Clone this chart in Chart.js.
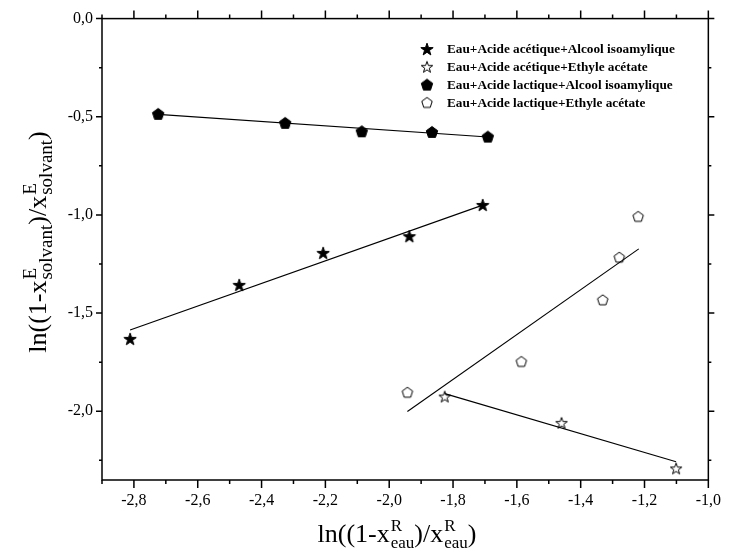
<!DOCTYPE html>
<html>
<head>
<meta charset="utf-8">
<script src="https://cdn.jsdelivr.net/npm/chart.js@4/dist/chart.umd.min.js"></script>
<style>
  html, body { margin: 0; padding: 0; background: #fff; }
  #wrap { width: 732px; height: 556px; }
</style>
</head>
<body>
<div id="wrap"><canvas id="c" width="732" height="556"></canvas></div>
<script>
// Series: ln((1-x^R_eau)/x^R_eau) vs ln((1-x^E_solvant)/x^E_solvant)
const seriesNames = [
  'Eau+Acide acétique+Alcool isoamylique',
  'Eau+Acide acétique+Ethyle acétate',
  'Eau+Acide lactique+Alcool isoamylique',
  'Eau+Acide lactique+Ethyle acétate'
];

// Acetic acid / isoamyl alcohol (filled stars)
const aceticIsoX = [-2.812, -2.470, -2.207, -1.937, -1.707];
const aceticIsoY = [-1.631, -1.356, -1.193, -1.108, -0.949];
// Acetic acid / ethyl acetate (open stars)
const aceticEthX = [-1.826, -1.460, -1.101];
const aceticEthY = [-1.925, -2.059, -2.291];
// Lactic acid / isoamyl alcohol (filled pentagons)
const lacticIsoX = [-2.724, -2.326, -2.086, -1.866, -1.691];
const lacticIsoY = [-0.485, -0.531, -0.574, -0.577, -0.601];
// Lactic acid / ethyl acetate (open pentagons)
const lacticEthX = [-1.943, -1.586, -1.331, -1.279, -1.220];
const lacticEthY = [-1.903, -1.746, -1.432, -1.215, -1.007];

// Straight-line fits, drawn between their two end points
const fitAceticIsoX = [-2.812, -1.707];
const fitAceticIsoY = [-1.586, -0.950];
const fitAceticEthX = [-1.826, -1.101];
const fitAceticEthY = [-1.910, -2.257];
const fitLacticIsoX = [-2.724, -1.691];
const fitLacticIsoY = [-0.488, -0.603];
const fitLacticEthX = [-1.943, -1.218];
const fitLacticEthY = [-2.001, -1.173];

// Axis ticks
const xMajorTicks = [-2.8, -2.6, -2.4, -2.2, -2.0, -1.8, -1.6, -1.4, -1.2, -1.0];
const xMinorTicks = [-2.9, -2.7, -2.5, -2.3, -2.1, -1.9, -1.7, -1.5, -1.3, -1.1];
const yMajorTicks = [0.0, -0.5, -1.0, -1.5, -2.0];
const yMinorTicks = [-0.25, -0.75, -1.25, -1.75, -2.25];

// Axis titles as runs: 'm' = normal text, 'script' = [superscript, subscript]
const xTitleRuns = [['ln((1-x', 'm'], [['R', 'eau'], 'script'], [')/x', 'm'], [['R', 'eau'], 'script'], [')', 'm']];
const yTitleRuns = [['ln((1-x', 'm'], [['E', 'solvant'], 'script'], [')/x', 'm'], [['E', 'solvant'], 'script'], [')', 'm']];

const SERIF = "'Liberation Serif', 'Times New Roman', serif";

function pts(xs, ys) { return xs.map((x, i) => ({ x: x, y: ys[i] })); }

// Marker images
function starPath(ctx, cx, cy, R) {
  const r = R * 0.4;
  ctx.beginPath();
  for (let i = 0; i < 10; i++) {
    const a = -Math.PI / 2 + i * Math.PI / 5;
    const rr = i % 2 === 0 ? R : r;
    const px = cx + rr * Math.cos(a), py = cy + rr * Math.sin(a);
    if (i === 0) ctx.moveTo(px, py); else ctx.lineTo(px, py);
  }
  ctx.closePath();
}
function pentPath(ctx, cx, cy, R) {
  ctx.beginPath();
  for (let i = 0; i < 5; i++) {
    const a = -Math.PI / 2 + i * 2 * Math.PI / 5;
    const px = cx + R * Math.cos(a), py = cy + R * Math.sin(a);
    if (i === 0) ctx.moveTo(px, py); else ctx.lineTo(px, py);
  }
  ctx.closePath();
}
function marker(shape, filled, R) {
  const s = 18;
  const c = document.createElement('canvas');
  c.width = s; c.height = s;
  const ctx = c.getContext('2d');
  (shape === 'star' ? starPath : pentPath)(ctx, s / 2, s / 2 + R * 0.1, R);
  ctx.fillStyle = filled ? '#000' : '#fff';
  ctx.fill();
  ctx.lineWidth = 1;
  ctx.strokeStyle = '#000';
  ctx.stroke();
  return c;
}
const mStarFilled = marker('star', true, 6.5);
const mStarOpen = marker('star', false, 6);
const mPentFilled = marker('pent', true, 6);
const mPentOpen = marker('pent', false, 5.5);
const legendMarkers = [mStarFilled, mStarOpen, mPentFilled, mPentOpen];

function fmt(v) { return v.toFixed(1).replace('.', ',').replace('-0,0', '0,0'); }
function isIn(list, v) { return list.some(t => Math.abs(t - v) < 1e-6); }

// Text with superscript/subscript pairs, laid along the baseline from x
function richWidth(ctx, runs, main, small) {
  let w = 0;
  runs.forEach(r => {
    if (r[1] === 'm') { ctx.font = main + 'px ' + SERIF; w += ctx.measureText(r[0]).width; }
    else {
      ctx.font = small + 'px ' + SERIF;
      w += Math.max(ctx.measureText(r[0][0]).width, ctx.measureText(r[0][1]).width) + 1;
    }
  });
  return w;
}
function drawRich(ctx, runs, x, y, main, small, supUp, subDown) {
  ctx.textBaseline = 'alphabetic';
  ctx.textAlign = 'left';
  runs.forEach(r => {
    if (r[1] === 'm') {
      ctx.font = main + 'px ' + SERIF;
      ctx.fillText(r[0], x, y);
      x += ctx.measureText(r[0]).width;
    } else {
      ctx.font = small + 'px ' + SERIF;
      ctx.fillText(r[0][0], x + 1, y - supUp);
      ctx.fillText(r[0][1], x + 1, y + subDown);
      x += Math.max(ctx.measureText(r[0][0]).width, ctx.measureText(r[0][1]).width) + 1;
    }
  });
}

const framePlugin = {
  id: 'frame',
  afterDraw(chart) {
    const ctx = chart.ctx, a = chart.chartArea;
    const xs = chart.scales.x, ys = chart.scales.y;
    ctx.save();
    ctx.strokeStyle = '#000';
    ctx.lineWidth = 1.5;
    ctx.strokeRect(a.left, a.top, a.right - a.left, a.bottom - a.top);
    ctx.beginPath();
    xs.ticks.forEach(t => {
      const px = xs.getPixelForValue(t.value);
      const len = isIn(xMajorTicks, t.value) ? 8 : 4;
      ctx.moveTo(px, a.bottom); ctx.lineTo(px, a.bottom + len);
      ctx.moveTo(px, a.top); ctx.lineTo(px, a.top - len);
    });
    ys.ticks.forEach(t => {
      if (!isIn(yMajorTicks, t.value) && !isIn(yMinorTicks, t.value)) return;
      const py = ys.getPixelForValue(t.value);
      const len = isIn(yMajorTicks, t.value) ? 6 : 3;
      ctx.moveTo(a.left, py); ctx.lineTo(a.left - len, py);
      ctx.moveTo(a.right, py); ctx.lineTo(a.right + len, py);
    });
    ctx.stroke();

    // Legend
    ctx.fillStyle = '#000';
    ctx.font = 'bold 13.25px ' + SERIF;
    ctx.textBaseline = 'middle';
    ctx.textAlign = 'left';
    const lx = 427, tx = 447, ly0 = 49, dy = 17.8;
    seriesNames.forEach((n, i) => {
      const m = legendMarkers[i];
      ctx.drawImage(m, lx - m.width / 2, ly0 + i * dy - m.height / 2);
      ctx.fillText(n, tx, ly0 + i * dy + 1);
    });

    // Axis titles
    const wx = richWidth(ctx, xTitleRuns, 26, 17);
    drawRich(ctx, xTitleRuns, 397 - wx / 2, 542, 26, 17, 11, 6);
    const wy = richWidth(ctx, yTitleRuns, 26, 19);
    ctx.translate(46, 242);
    ctx.rotate(-Math.PI / 2);
    drawRich(ctx, yTitleRuns, -wy / 2, 0, 26, 19, 10, 6);
    ctx.restore();
  }
};

const scatter = (data, img) => ({
  type: 'scatter', data: data, pointStyle: img, pointRadius: 6,
  showLine: false, borderColor: '#000', backgroundColor: '#000'
});
const fit = (data) => ({
  type: 'line', data: data, showLine: true, pointRadius: 0,
  borderColor: '#000', borderWidth: 1.1, fill: false, tension: 0
});

new Chart(document.getElementById('c'), {
  type: 'scatter',
  data: {
    datasets: [
      fit(pts(fitAceticIsoX, fitAceticIsoY)),
      fit(pts(fitAceticEthX, fitAceticEthY)),
      fit(pts(fitLacticIsoX, fitLacticIsoY)),
      fit(pts(fitLacticEthX, fitLacticEthY)),
      scatter(pts(aceticIsoX, aceticIsoY), mStarFilled),
      scatter(pts(aceticEthX, aceticEthY), mStarOpen),
      scatter(pts(lacticIsoX, lacticIsoY), mPentFilled),
      scatter(pts(lacticEthX, lacticEthY), mPentOpen)
    ]
  },
  options: {
    responsive: false,
    animation: false,
    devicePixelRatio: 1,
    layout: { padding: { left: 0, top: 18, right: 16, bottom: 0 } },
    plugins: { legend: { display: false }, tooltip: { enabled: false } },
    events: [],
    scales: {
      x: {
        type: 'linear', min: -2.9, max: -1.0,
        afterFit(s) { s.height = 76; },
        afterBuildTicks(s) { s.ticks = xMinorTicks.concat(xMajorTicks).sort((a, b) => a - b).map(v => ({ value: v })); },
        grid: { display: false, drawTicks: false },
        border: { display: false },
        ticks: {
          autoSkip: false, maxRotation: 0, padding: 11, color: '#000',
          font: { family: SERIF, size: 16 },
          callback: v => isIn(xMajorTicks, v) ? fmt(v) : ''
        }
      },
      y: {
        type: 'linear', min: -2.35, max: 0,
        afterFit(s) { s.width = 102; },
        afterBuildTicks(s) { s.ticks = yMinorTicks.concat(yMajorTicks).sort((a, b) => a - b).map(v => ({ value: v })); },
        grid: { display: false, drawTicks: false },
        border: { display: false },
        ticks: {
          autoSkip: false, padding: 9, color: '#000',
          font: { family: SERIF, size: 16 },
          callback: v => isIn(yMajorTicks, v) ? fmt(v) : ''
        }
      }
    }
  },
  plugins: [framePlugin]
});
</script>
</body>
</html>
